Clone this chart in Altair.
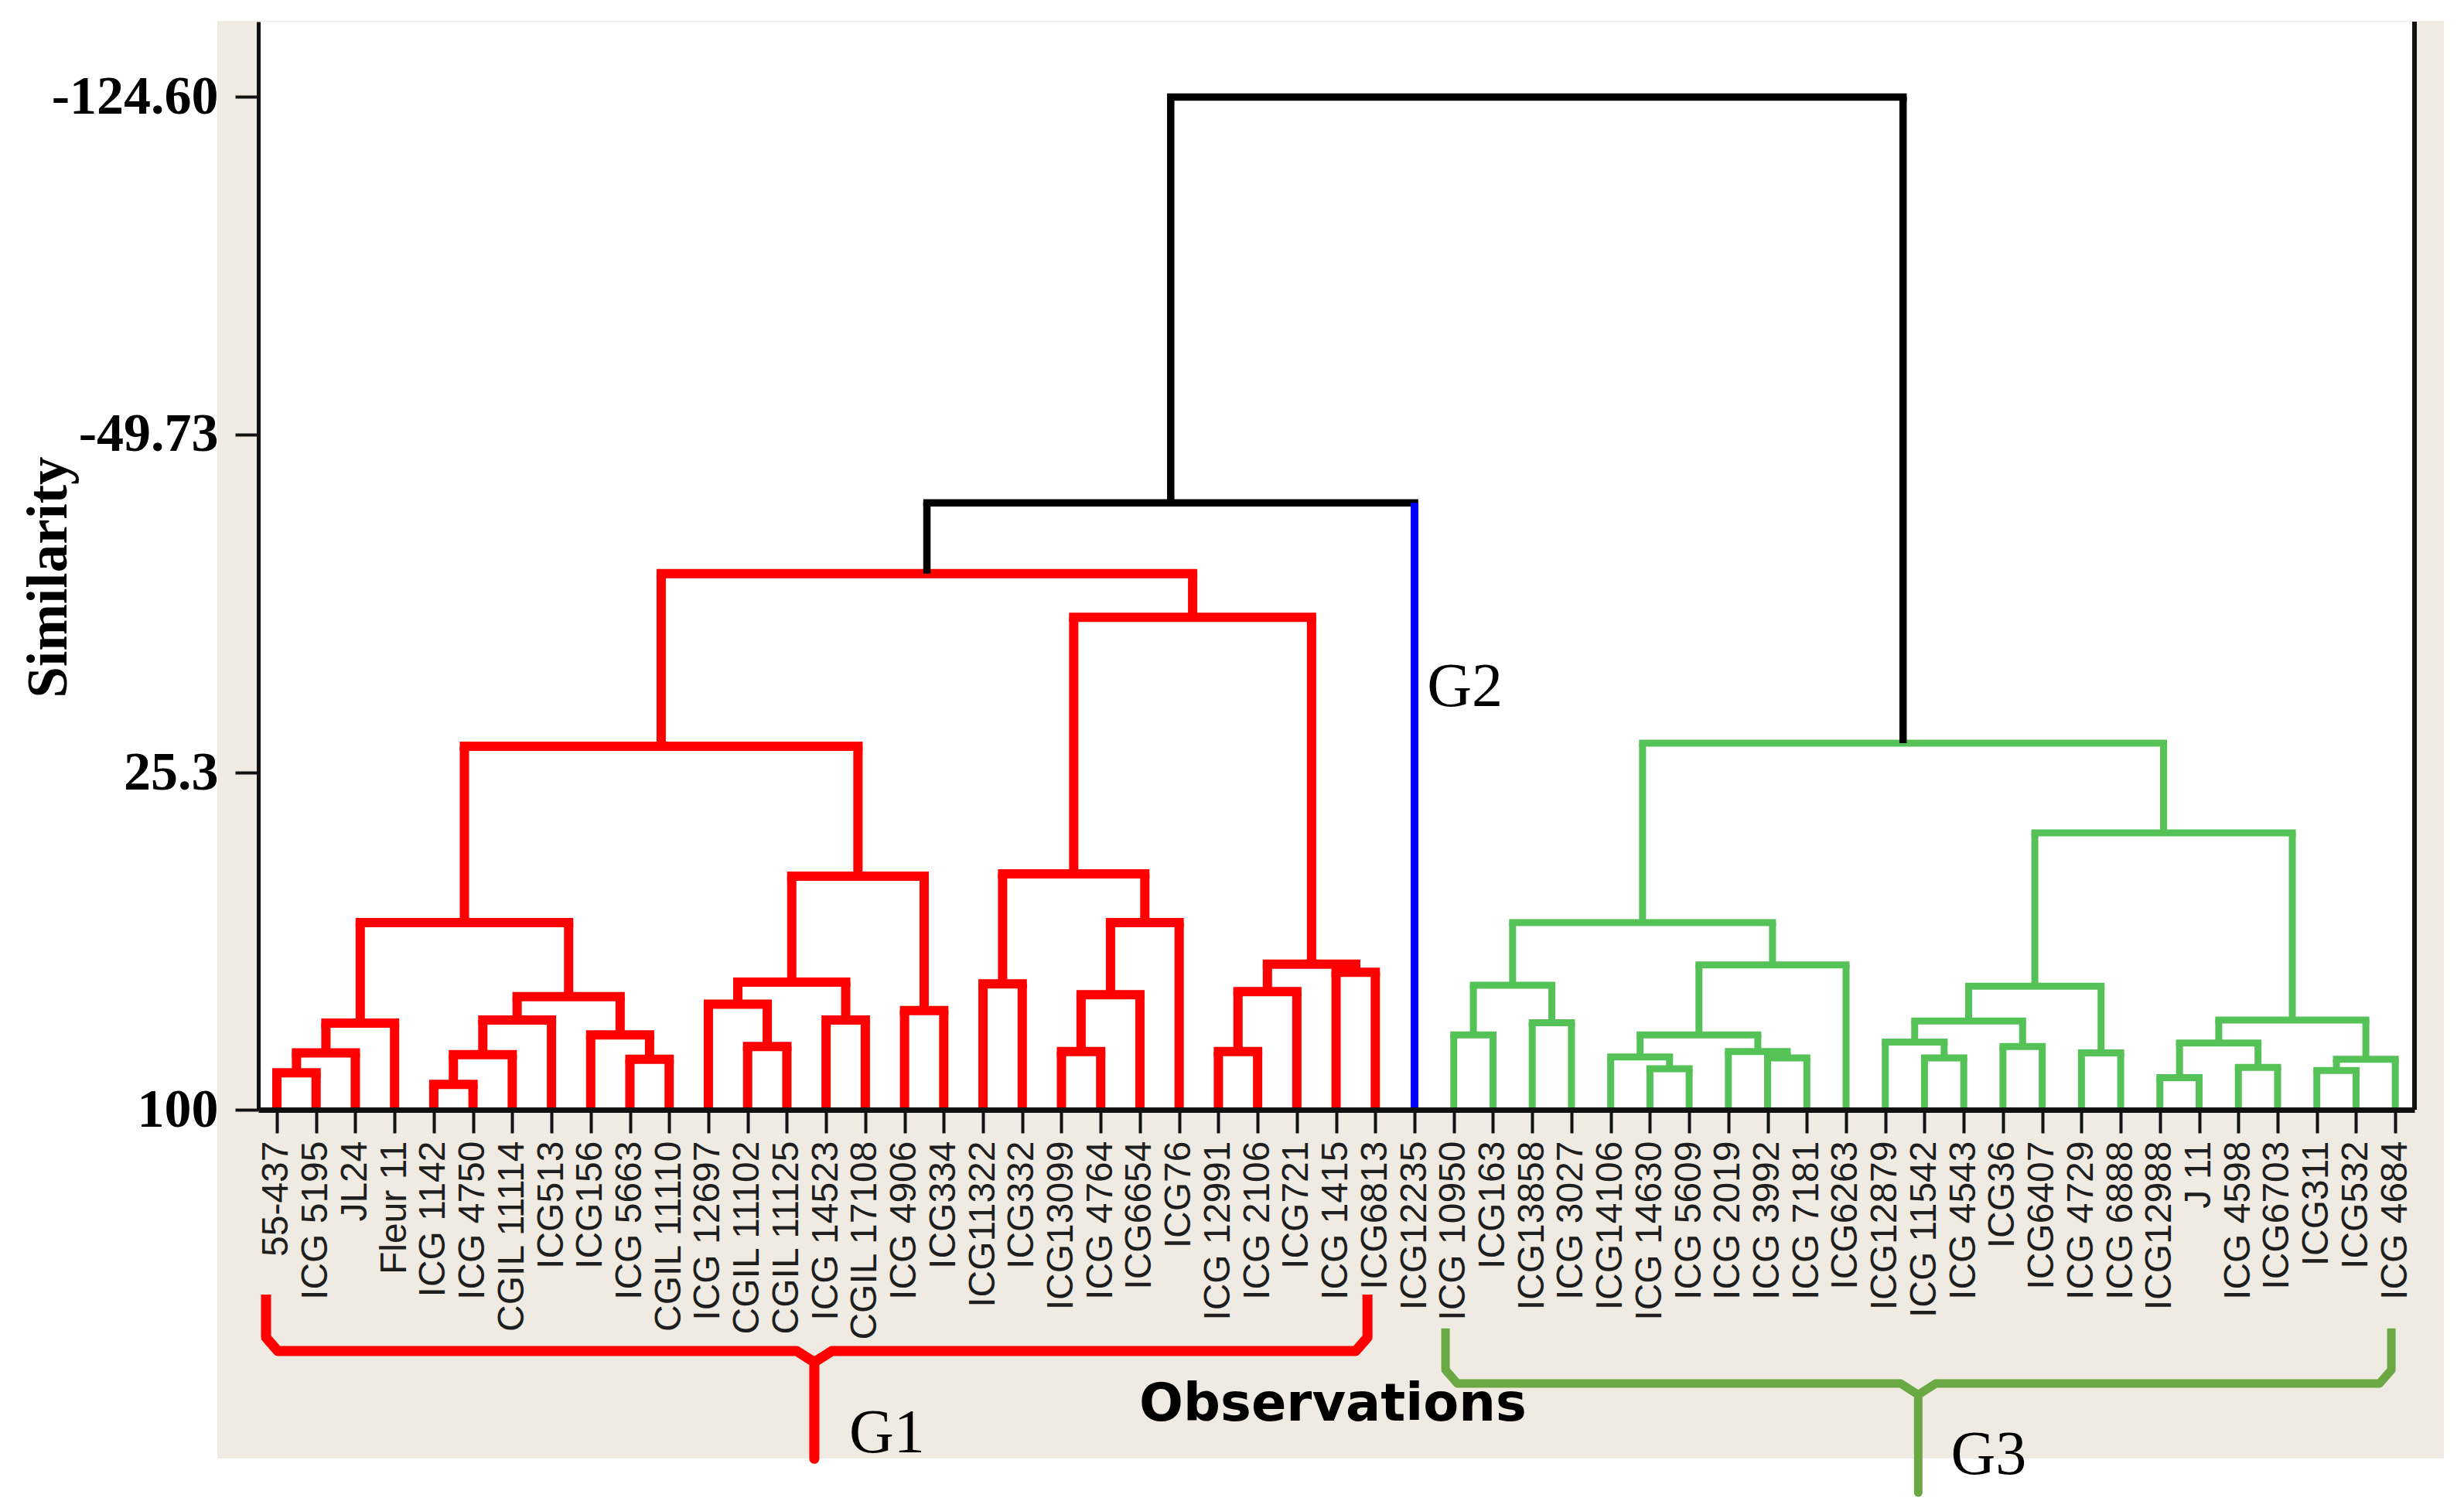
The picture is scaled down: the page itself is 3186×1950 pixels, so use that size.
import altair as alt
import pandas as pd

# ---------------- data ----------------
leaf_labels = [
    "55-437", "ICG 5195", "JL24", "Fleur 11", "ICG 1142", "ICG 4750", "CGIL 11114",
    "ICG513", "ICG156", "ICG 5663", "CGIL 11110", "ICG 12697", "CGIL 11102",
    "CGIL 11125", "ICG 14523", "CGIL 17108", "ICG 4906", "ICG334", "ICG11322",
    "ICG332", "ICG13099", "ICG 4764", "ICG6654", "ICG76", "ICG 12991", "ICG 2106",
    "ICG721", "ICG 1415", "ICG6813", "ICG12235", "ICG 10950", "ICG163", "ICG13858",
    "ICG 3027", "ICG14106", "ICG 14630", "ICG 5609", "ICG 2019", "ICG 3992",
    "ICG 7181", "ICG6263", "ICG12879", "ICG 11542", "ICG 4543", "ICG36", "ICG6407",
    "ICG 4729", "ICG 6888", "ICG12988", "J 11", "ICG 4598", "ICG6703", "ICG311",
    "ICG532", "ICG 4684",
]
leaf_group = ["G1"] * 29 + ["G2"] + ["G3"] * 25

merge_name = ["a1", "a2", "a3", "b1", "b2", "b3", "c1", "c2", "bc", "abc",
              "d1", "d2", "d3", "d4", "e1", "de", "l1",
              "f1", "g1", "g2", "g3", "fg", "h1", "h2", "h3", "h4", "r1", "red", "k",
              "i1", "i2", "i3", "j1", "j2", "q1", "q2", "jq", "jq2", "ijq",
              "m1", "m2", "m3", "m4", "m5", "m6", "n1", "n2", "n3", "n4", "n5", "n6",
              "mn", "green", "root"]
merge_left = [0, "a1", "a2", 4, "b1", "b2", 9, 8, "b3", "a3",
              12, 11, 14, "d2", 16, "d4", "abc",
              18, 20, "g1", "g2", "f1", 24, "h1", 27, "h2", "fg", "l1", "red",
              30, 32, "i1", 35, 34, 38, 37, "j2", "jq", "i3",
              42, 41, 44, "m2", 46, "m4", 48, 50, "n1", 52, "n4", "n3",
              "m6", "ijq", "k"]
merge_right = [1, 2, 3, 5, 6, 7, 10, "c1", "c2", "bc",
               13, "d1", 15, "d3", 17, "e1", "de",
               19, 21, 22, 23, "g3", 25, 26, 28, "h3", "h4", "r1", 29,
               31, 33, "i2", 36, "j1", 39, "q1", "q2", 40, "jq2",
               43, "m1", 45, "m3", 47, "m5", 49, 51, "n2", 53, 54, "n5",
               "n6", "mn", "green"]
merge_similarity = [91.8, 87.4, 80.8, 94.4, 87.8, 80.1, 88.8, 83.4, 74.9, 58.5,
                    86.0, 76.6, 80.1, 71.7, 78.0, 48.2, 19.4,
                    72.1, 87.1, 74.5, 58.5, 47.7, 87.1, 73.8, 69.5, 67.7, -9.2, -18.9, -34.6,
                    83.4, 80.7, 72.4, 90.9, 88.3, 88.5, 87.1, 83.4, 67.9, 58.5,
                    88.5, 85.0, 86.0, 80.3, 87.4, 72.6, 92.9, 90.6, 85.2, 91.3, 88.8, 80.1,
                    38.6, 18.7, -124.6]
merge_group = ["G1"] * 28 + ["link"] + ["G3"] * 24 + ["link"]

y_tick_values = [-124.6, -49.73, 25.3, 100]
y_tick_labels = ["-124.60", "-49.73", "25.3", "100"]

group_names = ["G1", "G2", "G3"]
group_label_x = [14.59, 29.32, 42.67]
group_label_y = [171.9, 6.35, 176.7]

# ---------------- styles ----------------
group_color = {"G1": "#FF0000", "G2": "#0000FF", "G3": "#55C257", "link": "#000000"}
group_width = {"G1": 12, "G2": 10, "G3": 9, "link": 9.5}

W, H = 2788, 1407
xs = alt.Scale(domain=[-0.473, 54.49], nice=False, zero=False)
ys = alt.Scale(domain=[-141.3, 100], reverse=True, nice=False, zero=False)

# ---------------- dendrogram geometry ----------------
pos = {i: float(i) for i in range(len(leaf_labels))}
hgt = {i: 100.0 for i in range(len(leaf_labels))}
bars, legs = [], []
for name, a, b, h, g in zip(merge_name, merge_left, merge_right, merge_similarity, merge_group):
    bars.append({"x": pos[a], "x2": pos[b], "y": h,
                 "col": group_color[g], "sw": group_width[g]})
    for c in (a, b):
        cg = leaf_group[c] if isinstance(c, int) else g
        legs.append({"x": pos[c], "y": hgt[c], "y2": h,
                     "col": group_color[cg], "sw": group_width[cg]})
    pos[name] = (pos[a] + pos[b]) / 2
    hgt[name] = h

bars_df = pd.DataFrame(bars)
legs_df = pd.DataFrame(legs)

# brackets (annotation shapes, in leaf / similarity units)
def bracket(xl, xr, xm, yt, yh, yb, grp, color, width):
    pts = [(xl, yt), (xl, yh - 3), (xl + 0.3, yh), (xm - 0.45, yh), (xm, yh + 2.5),
           (xm, yb), (xm, yh + 2.5), (xm + 0.45, yh), (xr - 0.3, yh), (xr, yh - 3), (xr, yt)]
    return [{"x": px, "y": py, "o": i, "grp": grp, "bc": color, "bw": width}
            for i, (px, py) in enumerate(pts)]

br_df = pd.DataFrame(
    bracket(-0.276, 27.80, 13.70, 141.0, 153.5, 177.4, "G1", "#FF0000", 13)
    + bracket(29.79, 53.90, 41.84, 148.5, 160.7, 184.9, "G3", "#6AA843", 11)
)
glabel_df = pd.DataFrame({"x": group_label_x, "y": group_label_y, "gt": group_names})

# ---------------- axes ----------------
x_label_expr = "[" + ",".join("'" + s + "'" for s in leaf_labels) + "][datum.value]"
y_label_expr = ""
for v, t in zip(y_tick_values, y_tick_labels):
    y_label_expr += f"datum.value == {v} ? '{t}' : "
y_label_expr += "''"

x_axis = alt.Axis(
    values=list(range(len(leaf_labels))), labelExpr=x_label_expr, grid=False,
    labelAngle=270, labelAlign="right", labelBaseline="middle", labelOverlap=False,
    labelFont="Liberation Sans", labelFontSize=48, labelColor="#1e1e1e", labelPadding=10,
    labelLimit=1000,
    tickSize=30, tickWidth=4, tickColor="#111111", domainColor="#111111", domainWidth=7,
    title="Observations", titleFont="DejaVu Sans", titleFontWeight="bold", titleFontSize=67,
    titleColor="#000000", titleX=1389, titleY=381, titleAlign="center", titleBaseline="middle",
    zindex=1,
)
y_axis = alt.Axis(
    values=y_tick_values, labelExpr=y_label_expr, grid=False,
    labelFont="Liberation Serif", labelFontWeight="bold", labelFontSize=70, labelColor="#000000",
    labelPadding=22, labelLimit=1000, tickSize=30, tickWidth=4, tickColor="#111111",
    domainColor="#111111", domainWidth=5,
    title="Similarity", titleFont="Liberation Serif", titleFontWeight="bold", titleFontSize=73,
    titleColor="#000000", titleAngle=270, titleX=-271, titleY=718, titleAlign="center",
    titleBaseline="middle", zindex=1,
)

X = alt.X("x:Q", scale=xs, axis=x_axis)
Y = alt.Y("y:Q", scale=ys, axis=y_axis)

one = pd.DataFrame({"k": [0]})

beige = alt.Chart(one).mark_rect(color="#EFEBE2").encode(
    x=alt.value(-53), x2=alt.value(2826), y=alt.value(-1), y2=alt.value(1858))
white = alt.Chart(one).mark_rect(color="#FFFFFF").encode(
    x=alt.value(0), x2=alt.value(W), y=alt.value(0), y2=alt.value(H))
border = alt.Chart(one).mark_rule(color="#111111", strokeWidth=6).encode(
    x=alt.value(W), y=alt.value(0), y2=alt.value(H))

bar_layer = alt.Chart(bars_df).mark_rule(strokeCap="square").encode(
    x=X, x2="x2:Q", y=Y,
    color=alt.Color("col:N", scale=None),
    strokeWidth=alt.StrokeWidth("sw:Q", scale=None),
)
leg_layer = alt.Chart(legs_df).mark_rule(strokeCap="butt").encode(
    x=X, y=Y, y2="y2:Q",
    color=alt.Color("col:N", scale=None),
    strokeWidth=alt.StrokeWidth("sw:Q", scale=None),
)
bracket_layer = alt.Chart(br_df).mark_line(strokeJoin="round", strokeCap="butt").encode(
    x=X, y=Y,
    order="o:Q",
    detail="grp:N",
    color=alt.Color("bc:N", scale=None),
    strokeWidth=alt.StrokeWidth("bw:Q", scale=None),
)
glabel_layer = alt.Chart(glabel_df).mark_text(
    align="left", baseline="middle", font="Liberation Serif", fontSize=80, color="#000000"
).encode(x=X, y=Y, text="gt:N")

chart = alt.layer(
    beige, white, border, bar_layer, leg_layer, bracket_layer, glabel_layer
).properties(
    width=W, height=H,
    autosize=alt.AutoSizeParams(type="none"),
    padding={"left": 326, "top": 20, "right": 56, "bottom": 510},
    background="#FFFFFF",
).configure_view(strokeWidth=0)

chart.save("out.html", embed_options={"renderer": "svg", "actions": False})
